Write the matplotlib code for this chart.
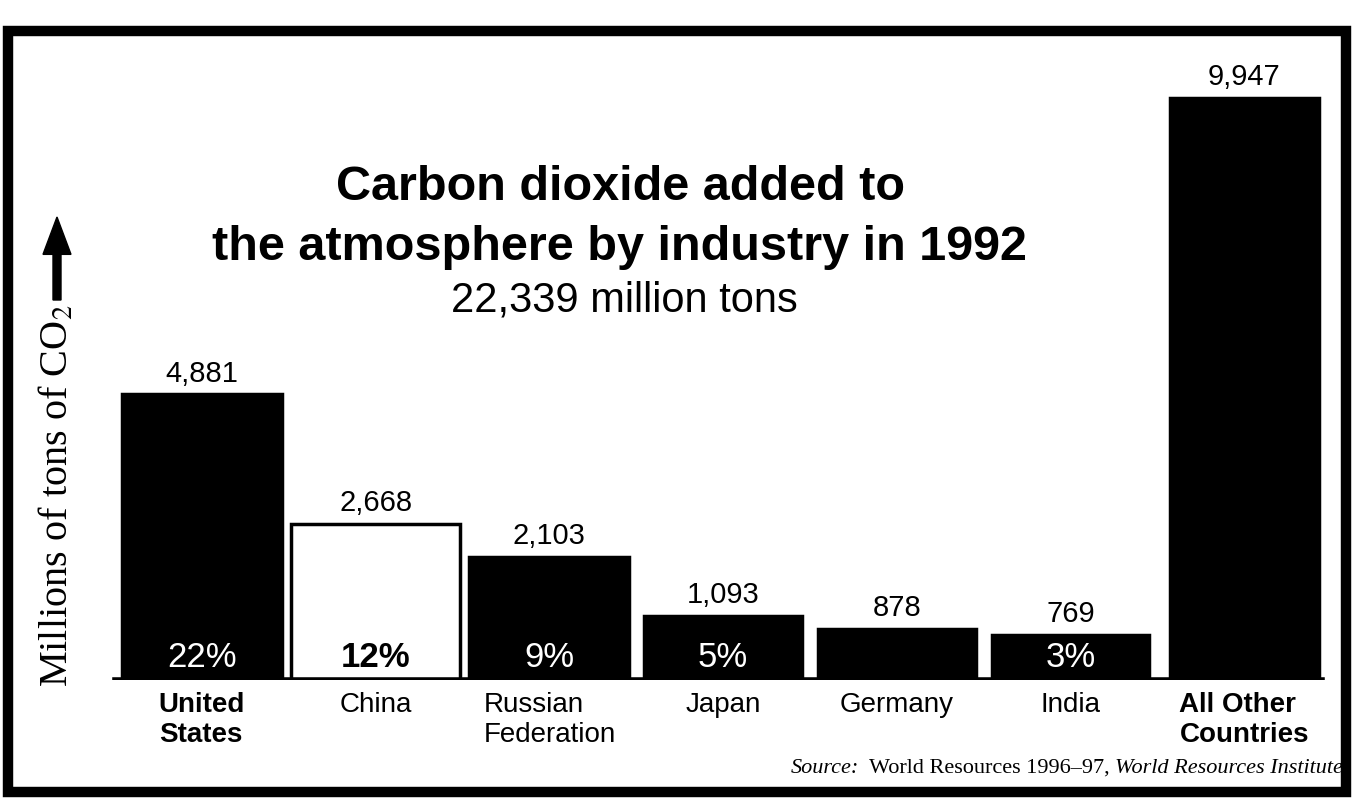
import matplotlib
matplotlib.use("Agg")
import matplotlib.pyplot as plt
from matplotlib.patches import Rectangle, FancyArrow

categories = ["United\nStates", "China", "Russian\nFederation", "Japan", "Germany", "India", "All Other\nCountries"]
values = [4881, 2668, 2103, 1093, 878, 769, 9947]
shares = ["22%", "12%", "9%", "5%", "", "3%", ""]
title_lines = ["Carbon dioxide added to", "the atmosphere by industry in 1992"]
subtitle = "22,339 million tons"
ylabel = "Millions of tons of CO$_2$"
source_parts = [("Source:", "italic"), ("World Resources 1996\u201397,", "normal"), ("World Resources Institute", "italic")]

plt.rcParams["mathtext.fontset"] = "stix"
SANS = "Liberation Sans"
SERIF = "Liberation Serif"

W, H = 1362, 811
fig = plt.figure(figsize=(W / 100, H / 100), dpi=100)

def fx(px):
    return px / W

def fy(py):
    return 1 - py / H

# axes: baseline at py=680, full width; x centers: 202 px, spacing 173.7 px
base_py = 680
scale = 0.0585  # px per unit
ax = fig.add_axes([0, fy(base_py), 1, base_py / H])
ax.set_xlim((0 - 202) / 173.7, (W - 202) / 173.7)
ax.set_ylim(0, base_py / scale)
ax.axis("off")

xs = list(range(len(values)))
colors = ["black", "white", "black", "black", "black", "black", "black"]
widths = [0.92, 0.97, 0.92, 0.91, 0.91, 0.90, 0.86]
ax.bar(xs, values, width=widths, color=colors, edgecolor="black", linewidth=2.5, zorder=2)
ax.axhline(0, xmin=fx(115), xmax=fx(1322), color="black", lw=4, zorder=3)

for i, (v, s) in enumerate(zip(values, shares)):
    ax.annotate(f"{v:,}", (i, v), xytext=(0, 5), textcoords="offset points",
                ha="center", va="bottom", fontsize=21, family=SANS, color="black")
    if s:
        is_white = colors[i] == "white"
        ax.annotate(s, (i, 0), xytext=(0, 16), textcoords="offset points",
                    ha="center", va="center", fontsize=25, family=SANS,
                    color="black" if is_white else "white",
                    fontweight="bold" if is_white else "normal", zorder=4)

# category labels
for i, c in enumerate(categories):
    bold = i in (0, 6)
    ax.annotate(c, (i, 0), xytext=(0, -9), textcoords="offset points",
                ha="center", va="top", multialignment="left", fontsize=20,
                family=SANS, fontweight="bold" if bold else "normal",
                linespacing=1.15, annotation_clip=False)

# title
fig.text(fx(620), fy(187), title_lines[0], ha="center", va="center", fontsize=35,
         family=SANS, fontweight="bold")
fig.text(fx(620), fy(248), title_lines[1], ha="center", va="center", fontsize=35,
         family=SANS, fontweight="bold")
fig.text(fx(624), fy(300), subtitle, ha="center", va="center", fontsize=30, family=SANS)

# y label and arrow
fig.text(fx(57), fy(496), ylabel, rotation=90, ha="center", va="center",
         fontsize=29, family=SERIF)
arr = FancyArrow(fx(57), fy(300), 0, fy(217) - fy(300), width=fx(8),
                 head_width=fx(28), head_length=(fy(217) - fy(300)) * 0.45,
                 length_includes_head=True, transform=fig.transFigure, color="black")
fig.patches.append(arr)

# source line (built right to left, right edge at x=1343 px)
nxt = None
for k, (txt, style) in reversed(list(enumerate(source_parts))):
    if nxt is None:
        nxt = fig.text(fx(1343), fy(778), txt, ha="right", va="bottom", fontsize=16,
                       family=SERIF, style=style)
    else:
        nxt = ax.annotate(txt, xy=(0, 0), xycoords=nxt, xytext=(-7 if k == 0 else -4, 0),
                          textcoords="offset points", ha="right", va="bottom",
                          fontsize=16, family=SERIF, style=style, annotation_clip=False)

# frame
frame = Rectangle((fx(8), fy(792)), fx(1346) - fx(8), fy(31) - fy(792),
                  transform=fig.transFigure, fill=False, edgecolor="black", lw=7.5)
fig.patches.append(frame)

fig.savefig("out.png", dpi=100, facecolor="white")
